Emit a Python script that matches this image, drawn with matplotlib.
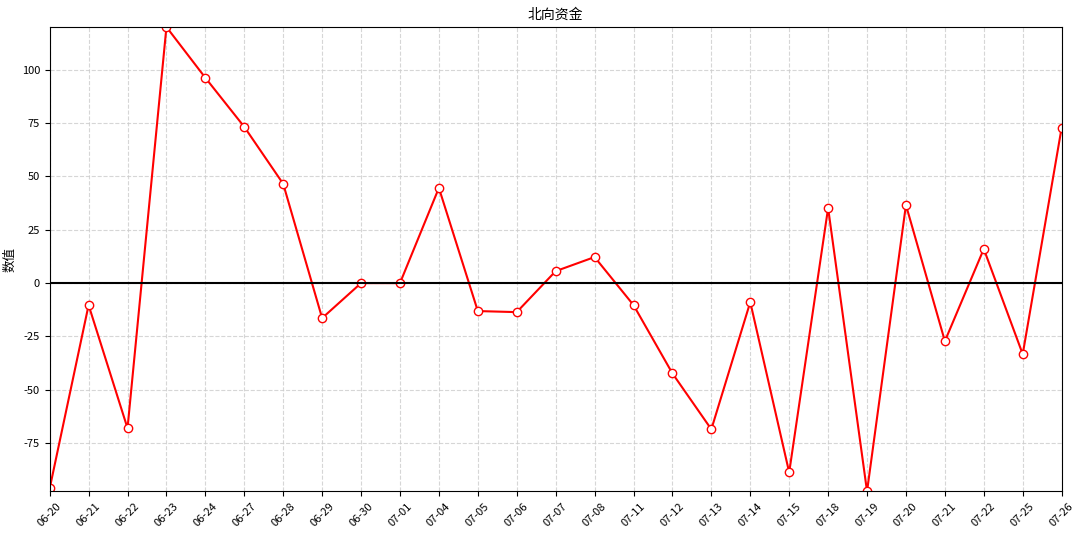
import matplotlib
matplotlib.use("Agg")
import matplotlib.pyplot as plt

plt.rcParams['font.family'] = ['Noto Sans CJK SC', 'DejaVu Sans']
plt.rcParams['axes.unicode_minus'] = False

dates = ["06-20","06-21","06-22","06-23","06-24","06-27","06-28","06-29","06-30","07-01",
         "07-04","07-05","07-06","07-07","07-08","07-11","07-12","07-13","07-14","07-15",
         "07-18","07-19","07-20","07-21","07-22","07-25","07-26"]
values = [-96.2,-10.3,-68.0,120.0,96.2,73.2,46.5,-16.4,0.0,0.0,
          44.6,-13.1,-13.6,5.6,12.2,-10.3,-42.3,-68.5,-8.9,-88.7,
          35.2,-97.6,36.6,-27.2,16.0,-33.3,72.8]

fig, ax = plt.subplots(figsize=(10.8, 5.4), dpi=100)
x = list(range(len(dates)))
ax.plot(x, values, color='red', marker='o', markerfacecolor='white',
        markeredgecolor='red', markersize=6, linewidth=1.5, clip_on=True)
ax.axhline(0, color='black', linewidth=1.5)
ax.set_xlim(0, len(dates) - 1)
ax.set_ylim(min(values), max(values))
ax.set_xticks(x)
ax.set_xticklabels(dates, rotation=45, fontsize=8)
ax.tick_params(axis='y', labelsize=8)
ax.grid(True, linestyle='--', color='#cccccc', alpha=0.8)
ax.set_ylabel('数值', fontsize=9)
ax.set_title('北向资金', fontsize=10)
fig.subplots_adjust(left=0.046, right=0.983, top=0.95, bottom=0.09)
fig.savefig('out.png')
